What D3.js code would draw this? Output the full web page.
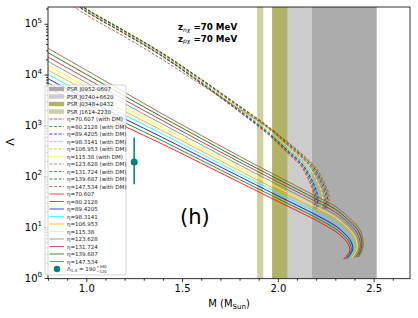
<!DOCTYPE html>
<html><head><meta charset="utf-8">
<script src="https://cdn.jsdelivr.net/npm/d3@7"></script>
<style>body{margin:0;background:#fff;} svg{display:block;font-family:"DejaVu Sans",sans-serif;}</style>
</head><body><svg id="c" width="418" height="318"></svg>
<script>
// ---------- data ----------
const etaLabels = ["70.607","80.2128","89.4205","98.3141","106.953","115.38","123.628","131.724","139.687","147.534"];
const curveColors = ["#ff0000","#008000","#0000ff","#00ffff","#ffa500","#ffff00","#808080","#a52a2a","#006400","#a0522d"];

// solid curves (without DM): Lambda at common masses, then the turning tail
const solidGridM = [0.8,1.0,1.2,1.4,1.6,1.8,2.0,2.2,2.3];
const solidGridL = [
  [5620,2270,960,425,180,75.9,32.1,13.6,8.23],
  [6840,2740,1140,494,207,86.5,36.4,15.3,9.33],
  [8340,3300,1350,574,238,98.6,41.2,17.3,10.6],
  [10100,3970,1600,668,274,112,46.8,19.5,12.0],
  [12300,4790,1900,778,316,128,53.1,22.0,13.6],
  [15000,5770,2260,906,363,146,60.3,24.8,15.5],
  [18300,6950,2680,1050,418,166,68.2,27.9,17.5],
  [22200,8380,3180,1230,481,190,77.4,31.6,19.8],
  [27000,10100,3780,1430,555,216,87.9,35.6,22.5],
  [33000,12200,4490,1660,638,247,99.5,40.2,25.5]
];
const solidTailM = [
  [2.333,2.362,2.376,2.363,2.342],
  [2.337,2.369,2.384,2.371,2.351],
  [2.341,2.376,2.392,2.379,2.361],
  [2.345,2.384,2.400,2.387,2.369],
  [2.349,2.391,2.408,2.395,2.378],
  [2.353,2.398,2.415,2.404,2.387],
  [2.358,2.405,2.423,2.411,2.396],
  [2.361,2.412,2.431,2.420,2.405],
  [2.365,2.420,2.439,2.428,2.415],
  [2.370,2.427,2.446,2.436,2.423]
];
const solidTailL = [
  [6.56,5.00,3.56,2.84,2.31],
  [7.21,5.32,3.67,2.88,2.34],
  [7.94,5.70,3.79,2.92,2.38],
  [8.73,6.07,3.93,2.94,2.41],
  [9.59,6.50,4.06,2.98,2.44],
  [10.6,6.93,4.19,3.02,2.48],
  [11.7,7.41,4.32,3.06,2.51],
  [12.8,7.91,4.49,3.09,2.55],
  [14.1,8.45,4.62,3.13,2.58],
  [15.5,9.01,4.78,3.18,2.61]
];

// dashed curves (with DM)
const dmGridM = [0.85,1.0,1.2,1.4,1.6,1.8,1.95,2.05];
const dmGridL = [
  [417000,172000,63500,22300,6650,1840,662,289],
  [424000,175000,64600,22800,6820,1900,693,306],
  [432000,178000,65800,23200,7000,1970,724,324],
  [439000,181000,66800,23700,7180,2030,759,343],
  [447000,185000,68100,24200,7360,2100,794,362],
  [454000,188000,69200,24600,7550,2180,830,384],
  [461000,191000,70300,25100,7750,2250,869,406],
  [470000,194000,71600,25600,7940,2330,910,430],
  [478000,197000,72800,26100,8150,2410,953,455],
  [364000,150000,55500,19500,6350,2100,910,475]
];
const dmTailM = [
  [2.119,2.150,2.176,2.192,2.187],
  [2.122,2.155,2.182,2.200,2.194],
  [2.125,2.159,2.189,2.209,2.202],
  [2.128,2.164,2.196,2.217,2.209],
  [2.130,2.169,2.202,2.225,2.217],
  [2.133,2.173,2.208,2.234,2.224],
  [2.136,2.178,2.214,2.243,2.232],
  [2.139,2.182,2.221,2.251,2.239],
  [2.142,2.187,2.227,2.259,2.247],
  [2.145,2.192,2.234,2.268,2.255]
];
const dmTailL = [
  [164,104,63.2,38.5,23.3],
  [171,109,65.6,38.6,23.2],
  [178,114,68.1,38.8,23.1],
  [185,119,70.2,39.0,23.0],
  [193,125,72.8,39.2,22.9],
  [200,131,75.5,39.4,22.8],
  [208,137,78.3,39.6,22.7],
  [217,143,80.8,39.8,22.6],
  [226,150,83.8,40.0,22.4],
  [236,157,86.9,40.2,22.3]
];

// pulsar mass bands
const bandNames = ["PSR J0952-0607","PSR J0740+6620","PSR J0348+0432","PSR J1614-2230"];
const bandLo = [2.177,2.048,1.970,1.892];
const bandHi = [2.516,2.177,2.050,1.924];
const bandColors = ["#acacac","#cccccc","#b3b366","#cfcf9f"];

// observational point
const obsM = [1.25];
const obsL = [190];
const obsLo = [70];
const obsHi = [580];
const obsLabel = ["190","+390","−120"];

const xMajor = [1.0,1.5,2.0,2.5];
const xMajorLabels = ["1.0","1.5","2.0","2.5"];
const yDecades = [0,1,2,3,4,5];

// ---------- chart ----------
const svg = d3.select("#c");
const L=48,R=410,T=7,B=278.7;
const x = d3.scaleLinear().domain([0.8,2.69]).range([L,R]);
const y = d3.scaleLog().domain([Math.pow(10,-0.015), Math.pow(10,5.33)]).range([B,T]);

svg.append("defs").append("clipPath").attr("id","clip")
  .append("rect").attr("x",L).attr("y",T).attr("width",R-L).attr("height",B-T);

const plot = svg.append("g").attr("clip-path","url(#clip)");

// bands
[1,0,2,3].forEach(i=>{
  plot.append("rect").attr("x",x(bandLo[i])).attr("width",x(bandHi[i])-x(bandLo[i]))
    .attr("y",T).attr("height",B-T).attr("fill",bandColors[i]);
});

const line = d3.line().x(d=>x(d[0])).y(d=>y(d[1])).curve(d3.curveCatmullRom.alpha(0.5));

// dashed curves
etaLabels.forEach((e,k)=>{
  const pts = dmGridM.map((m,i)=>[m,dmGridL[k][i]]).concat(dmTailM[k].map((m,i)=>[m,dmTailL[k][i]]));
  plot.append("path").attr("d",line(pts)).attr("fill","none").attr("stroke",curveColors[k])
    .attr("stroke-width",1).attr("stroke-dasharray","3,1.6").attr("opacity",0.85);
});
// solid curves
etaLabels.forEach((e,k)=>{
  const pts = solidGridM.map((m,i)=>[m,solidGridL[k][i]]).concat(solidTailM[k].map((m,i)=>[m,solidTailL[k][i]]));
  plot.append("path").attr("d",line(pts)).attr("fill","none").attr("stroke",curveColors[k])
    .attr("stroke-width",1).attr("opacity",0.85);
});

// observation
obsM.forEach((m,i)=>{
  plot.append("line").attr("x1",x(m)).attr("x2",x(m)).attr("y1",y(obsLo[i])).attr("y2",y(obsHi[i]))
    .attr("stroke","#008080").attr("stroke-width",1.5);
  plot.append("circle").attr("cx",x(m)).attr("cy",y(obsL[i])).attr("r",3.5).attr("fill","#008080");
});

// axes
const xMinor = d3.range(8,27).map(v=>v/10).filter(v=>!xMajor.some(m=>Math.abs(m-v)<1e-9));
const gx = svg.append("g").attr("transform",`translate(0,${B})`);
gx.call(d3.axisBottom(x).tickValues(xMajor).tickSize(3.5).tickPadding(2.5).tickFormat((d,i)=>xMajorLabels[i]));
const gx2 = svg.append("g").attr("transform",`translate(0,${B})`);
gx2.call(d3.axisBottom(x).tickValues(xMinor).tickSize(2).tickFormat(""));
[gx,gx2].forEach(g=>{g.select(".domain").remove(); g.selectAll("line").attr("stroke","#000").attr("stroke-width",0.8);});
gx.selectAll("text").attr("font-size",10).attr("font-family","DejaVu Sans").attr("fill","#000");

const yMajorVals = yDecades.map(d=>Math.pow(10,d));
const yMinorVals = [];
for(let d=-1; d<=5; d++) for(let j=2;j<=9;j++){ const v=j*Math.pow(10,d); if(v>=y.domain()[0]&&v<=y.domain()[1]) yMinorVals.push(v);}
const gy = svg.append("g").attr("transform",`translate(${L},0)`);
gy.call(d3.axisLeft(y).tickValues(yMajorVals).tickSize(3.5).tickFormat(""));
const gy2 = svg.append("g").attr("transform",`translate(${L},0)`);
gy2.call(d3.axisLeft(y).tickValues(yMinorVals).tickSize(2).tickFormat(""));
[gy,gy2].forEach(g=>{g.select(".domain").remove(); g.selectAll("line").attr("stroke","#000").attr("stroke-width",0.8);});
yDecades.forEach(d=>{
  const t = svg.append("text").attr("x",42).attr("y",y(Math.pow(10,d))+3.6).attr("text-anchor","end")
    .attr("font-size",10).attr("fill","#000");
  t.append("tspan").text("10");
  t.append("tspan").attr("dy",-4.5).attr("font-size",7).text(d);
});

// frame
svg.append("rect").attr("x",L).attr("y",T).attr("width",R-L).attr("height",B-T)
  .attr("fill","none").attr("stroke","#000").attr("stroke-width",0.8);

// axis labels
const xl = svg.append("text").attr("x",(L+R)/2).attr("y",307).attr("text-anchor","middle").attr("font-size",10).attr("fill","#000");
xl.append("tspan").text("M (M");
xl.append("tspan").attr("font-size",7).attr("dy",2).text("Sun");
xl.append("tspan").attr("dy",-2).text(")");
svg.append("text").attr("transform","translate(14,142) rotate(-90)").attr("text-anchor","middle")
  .attr("font-size",11).attr("fill","#000").text("Λ");

// annotations
["n","p"].forEach((c,i)=>{
  const t = svg.append("text").attr("x",178).attr("y",30+i*11.5).attr("font-size",8.7).attr("font-weight","bold").attr("fill","#000");
  t.append("tspan").text("z");
  t.append("tspan").attr("font-size",6).attr("dy",1.8).attr("font-style","italic").attr("font-weight","normal").text(c+"χ");
  t.append("tspan").attr("dy",-1.8).text(" =70 MeV");
});
svg.append("text").attr("x",180).attr("y",224).attr("font-size",21).attr("fill","#000").text("(h)");

// legend
const lg = svg.append("g");
lg.append("rect").attr("x",45).attr("y",85).attr("width",81).attr("height",190).attr("rx",2)
  .attr("fill","#fff").attr("fill-opacity",0.8).attr("stroke","#cccccc").attr("stroke-width",0.8);
const rowY = i=>89+i*7.5;
const fs = 5.5;
bandNames.forEach((n,i)=>{
  lg.append("rect").attr("x",49).attr("y",rowY(i)-2.2).attr("width",15).attr("height",4.4).attr("fill",bandColors[i]);
  lg.append("text").attr("x",67).attr("y",rowY(i)+2).attr("font-size",fs).attr("fill","#222").text(n);
});
etaLabels.forEach((e,k)=>{
  const i=4+k;
  lg.append("line").attr("x1",49.5).attr("x2",64).attr("y1",rowY(i)).attr("y2",rowY(i))
    .attr("stroke",curveColors[k]).attr("stroke-width",1).attr("stroke-dasharray","3,1.6").attr("opacity",0.75);
  lg.append("text").attr("x",67).attr("y",rowY(i)+2).attr("font-size",fs).attr("fill","#222").text("η="+e+" (with DM)");
});
etaLabels.forEach((e,k)=>{
  const i=14+k;
  lg.append("line").attr("x1",49.5).attr("x2",64).attr("y1",rowY(i)).attr("y2",rowY(i))
    .attr("stroke",curveColors[k]).attr("stroke-width",1).attr("opacity",0.75);
  lg.append("text").attr("x",67).attr("y",rowY(i)+2).attr("font-size",fs).attr("fill","#222").text("η="+e);
});
{
  const i=24;
  lg.append("circle").attr("cx",57).attr("cy",rowY(i)).attr("r",3.2).attr("fill","#008080");
  const t = lg.append("text").attr("x",67).attr("y",rowY(i)+2).attr("font-size",fs).attr("fill","#222");
  t.append("tspan").text("Λ");
  t.append("tspan").attr("font-size",4).attr("dy",1.2).text("1.4");
  t.append("tspan").attr("dy",-1.2).text(" = "+obsLabel[0]);
  const len = t.node().getComputedTextLength();
  lg.append("text").attr("x",67+len+0.6).attr("y",rowY(i)-0.6).attr("font-size",3.8).attr("fill","#222").text(obsLabel[1]);
  lg.append("text").attr("x",67+len+0.6).attr("y",rowY(i)+3.8).attr("font-size",3.8).attr("fill","#222").text(obsLabel[2]);
}
</script></body></html>
